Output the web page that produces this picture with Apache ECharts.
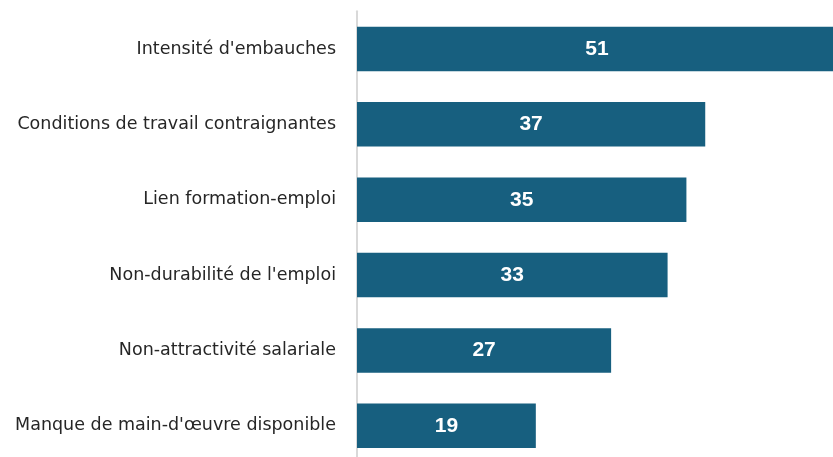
<!DOCTYPE html>
<html><head><meta charset="utf-8">
<script src="https://cdn.jsdelivr.net/npm/echarts@6/dist/echarts.min.js"></script>
<style>html,body{margin:0;padding:0;background:#fff}#c{width:833px;height:457px}</style>
</head><body><div id="c"></div>
<script>
const categories = ["Intensité d'embauches","Conditions de travail contraignantes","Lien formation-emploi","Non-durabilité de l'emploi","Non-attractivité salariale","Manque de main-d'œuvre disponible"];
const values = [51,37,35,33,27,19];
const chart = echarts.init(document.getElementById('c'));
chart.setOption({
  animation:false,
  grid:{left:357,top:11.3,height:452.2,right:-4,containLabel:false,outerBoundsMode:'none'},
  xAxis:{type:'value',min:0,max:51,show:false},
  yAxis:{type:'category',inverse:true,data:categories,
    axisLine:{show:true,lineStyle:{color:'#d9d9d9',width:2}},
    axisTick:{show:false},
    axisLabel:{color:'#262626',fontSize:17.5,fontFamily:'DejaVu Sans',margin:21}},
  series:[{type:'bar',data:values,barWidth:44.5,
    itemStyle:{color:'#175f7f'},
    label:{show:true,position:'inside',color:'#fff',fontWeight:'bold',fontSize:21,fontFamily:'Liberation Sans'}}]
});
</script></body></html>
